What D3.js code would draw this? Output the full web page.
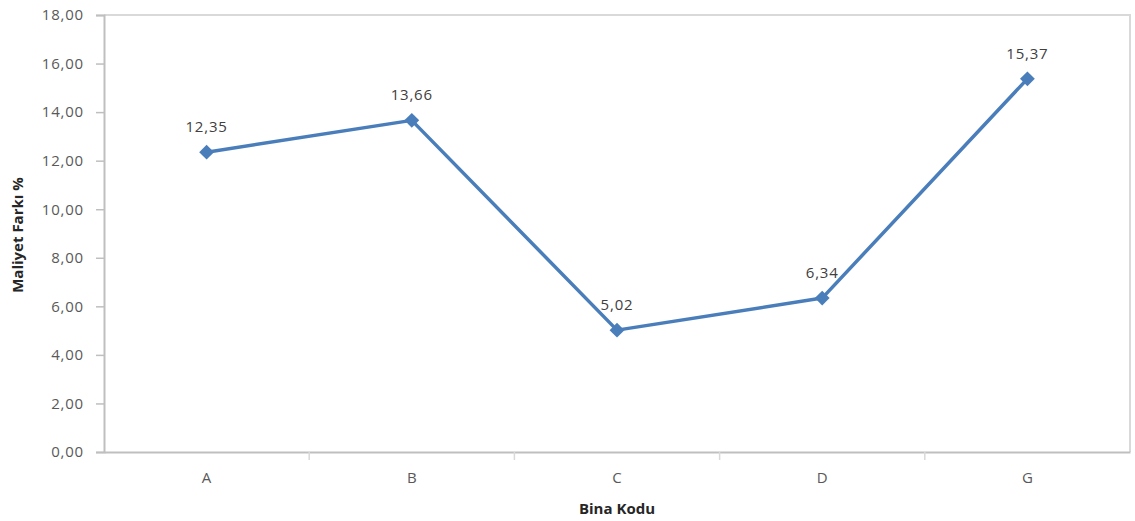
<!DOCTYPE html>
<html><head><meta charset="utf-8">
<script src="https://cdn.jsdelivr.net/npm/d3@7"></script>
<style>body{margin:0;background:#fff}</style>
</head><body>
<svg id="c" width="1135" height="521"></svg>
<script>
const categories = ["A","B","C","D","G"];
const values = [12.35, 13.66, 5.02, 6.34, 15.37];
const yTicks = [0,2,4,6,8,10,12,14,16,18];
const yTitle = "Maliyet Farkı %";
const xTitle = "Bina Kodu";

const svg = d3.select("#c");
const L = 104, R = 1130, T = 15, B = 452;
const font = "'Open Sans', 'Noto Sans', sans-serif";
const x = d3.scaleBand().domain(categories).range([L, R]).padding(0);
const y = d3.scaleLinear().domain([0, 18]).range([B, T]);
const fmt = v => v.toFixed(2).replace(".", ",");

// plot border (top & right)
svg.append("path").attr("d", `M${L},${T}H${R}V${B}`).attr("fill","none").attr("stroke","#d9d9d9").attr("stroke-width",2);

// y axis
const ya = svg.append("g").attr("transform", `translate(${L},0)`)
  .call(d3.axisLeft(y).tickValues(yTicks).tickFormat(fmt).tickSize(8).tickPadding(12));
ya.select(".domain").attr("stroke","#bfbfbf").attr("stroke-width",2);
ya.selectAll(".tick line").attr("stroke","#bfbfbf").attr("stroke-width",1.5);
ya.selectAll("text").attr("fill","#595959").style("font-family",font).style("font-size","15px").style("letter-spacing","0.8px");

// x axis
const xa = svg.append("g").attr("transform", `translate(0,${B})`)
  .call(d3.axisBottom(x).tickSize(0).tickPadding(20));
xa.select(".domain").attr("stroke","#bfbfbf").attr("stroke-width",2);
xa.selectAll("text").attr("fill","#595959").style("font-family",font).style("font-size","15px");
// between-category tick marks
xa.selectAll(".sep").data(categories.slice(1)).enter().append("line")
  .attr("x1", d => x(d)).attr("x2", d => x(d)).attr("y1", 0).attr("y2", 8)
  .attr("stroke","#d9d9d9").attr("stroke-width",1.5);

// line
const cx = d => x(d) + x.bandwidth()/2;
const line = d3.line().x((d,i) => cx(categories[i])).y(d => y(d));
svg.append("path").datum(values).attr("d", line).attr("fill","none")
  .attr("stroke","#4a7ebb").attr("stroke-width",3.5).attr("stroke-linejoin","round");

// markers (diamonds)
svg.selectAll(".m").data(values).enter().append("path")
  .attr("d", d3.symbol().type(d3.symbolDiamond2).size(140))
  .attr("transform", (d,i) => `translate(${cx(categories[i])},${y(d)})`)
  .attr("fill","#4a7ebb");

// data labels
svg.selectAll(".lbl").data(values).enter().append("text")
  .attr("x", (d,i) => cx(categories[i]))
  .attr("y", d => y(d) - 20)
  .attr("text-anchor","middle")
  .attr("fill","#404040").style("font-family",font).style("font-size","15px").style("letter-spacing","0.8px")
  .text(fmt);

// titles
svg.append("text").attr("transform", `translate(23,${235}) rotate(-90)`)
  .attr("text-anchor","middle").attr("fill","#262626").style("font-family",font)
  .style("font-size","15px").style("font-weight","bold").text(yTitle);
svg.append("text").attr("x", (L+R)/2).attr("y", 514).attr("text-anchor","middle")
  .attr("fill","#262626").style("font-family",font).style("font-size","15px")
  .style("font-weight","bold").text(xTitle);
</script>
</body></html>
